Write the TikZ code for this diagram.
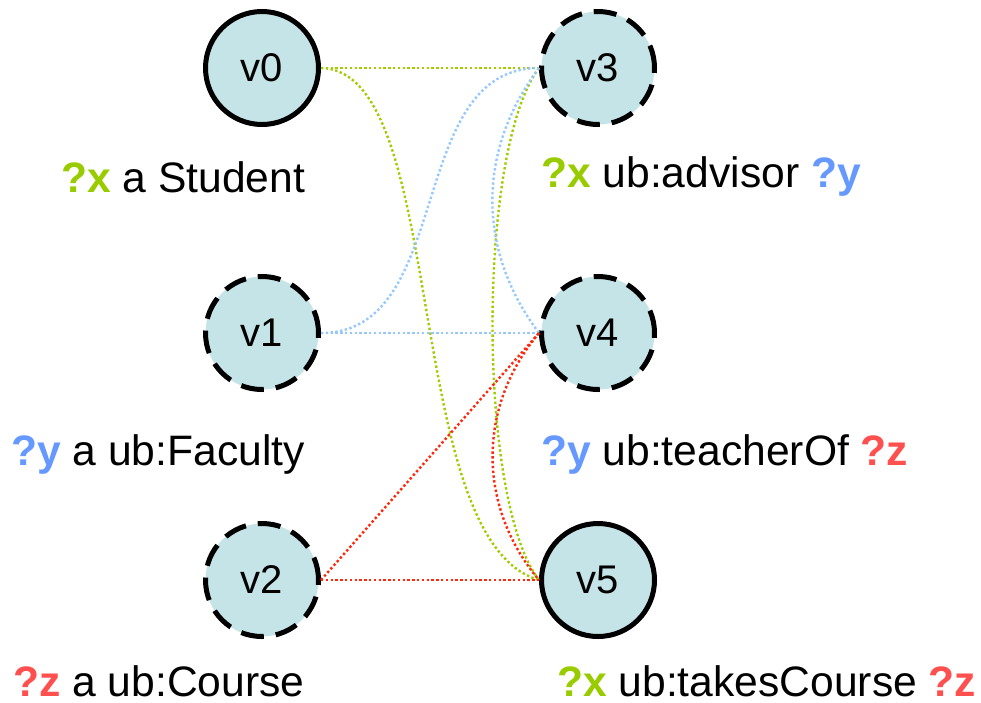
\documentclass[tikz,border=0pt]{standalone}
\usepackage{fontspec}
\setmainfont{Liberation Sans}
\definecolor{vx}{RGB}{153,204,0}
\definecolor{vy}{RGB}{102,153,255}
\definecolor{vz}{RGB}{255,80,80}
\definecolor{ex}{RGB}{160,204,0}
\definecolor{ey}{RGB}{150,200,255}
\definecolor{ez}{RGB}{255,40,10}
\definecolor{nodefill}{RGB}{197,228,232}
\tikzset{
  vert/.style={circle, draw=black, line width=5pt, fill=nodefill, minimum size=113pt, inner sep=0pt, font=\fontsize{40}{48}\selectfont},
  solidv/.style={vert},
  dashv/.style={vert, dash pattern=on 23pt off 12pt},
  lab/.style={anchor=base west, inner sep=0pt, font=\fontsize{42.6}{50}\selectfont},
  edge/.style={line width=2.4pt, dash pattern=on 2.4pt off 2.4pt},
  gx/.style={edge, draw=ex},
  gy/.style={edge, draw=ey},
  gz/.style={edge, draw=ez}
}
\newcommand{\qx}{\textbf{\color{vx}?x}}
\newcommand{\qy}{\textbf{\color{vy}?y}}
\newcommand{\qz}{\textbf{\color{vz}?z}}
\begin{document}
\begin{tikzpicture}[x=1pt,y=1pt]
\useasboundingbox (0,0) rectangle (981,-702);
\node[solidv] (v0) at (262,-68) {v0};
\node[dashv] (v1) at (262,-333) {v1};
\node[dashv] (v2) at (262,-580) {v2};
\node[dashv] (v3) at (598,-68) {v3};
\node[dashv] (v4) at (598,-333) {v4};
\node[solidv] (v5) at (598,-580) {v5};
% connectors
\draw[gx] (v0.east) -- (v3.west);
\draw[gx] (v0.east) .. controls (450,-70) and (400,-540) .. (v5.west);
\draw[gx] (v3.west) .. controls (477,-150) and (477,-500) .. (v5.west);
\draw[gy] (v1.east) to[out=0,in=180] (v3.west);
\draw[gy] (v1.east) -- (v4.west);
\draw[gy] (v3.west) to[bend right=37] (v4.west);
\draw[gz] (v2.east) -- (v5.west);
\draw[gz] (v2.east) -- (v4.west);
\draw[gz] (v4.west) to[bend right=40] (v5.west);
% labels
\node[lab] (l0) at (61,-192) {\qx{} a Student};
\node[lab] (l3) at (541,-187) {\qx{} ub:advisor \qy};
\node[lab] (l1) at (11,-465) {\qy{} a ub:Faculty};
\node[lab] (l4) at (541,-465) {\qy{} ub:teacherOf \qz};
\node[lab] (l2) at (13,-696) {\qz{} a ub:Course};
\node[lab] (l5) at (557,-696) {\qx{} ub:takesCourse \qz};
\end{tikzpicture}
\end{document}
